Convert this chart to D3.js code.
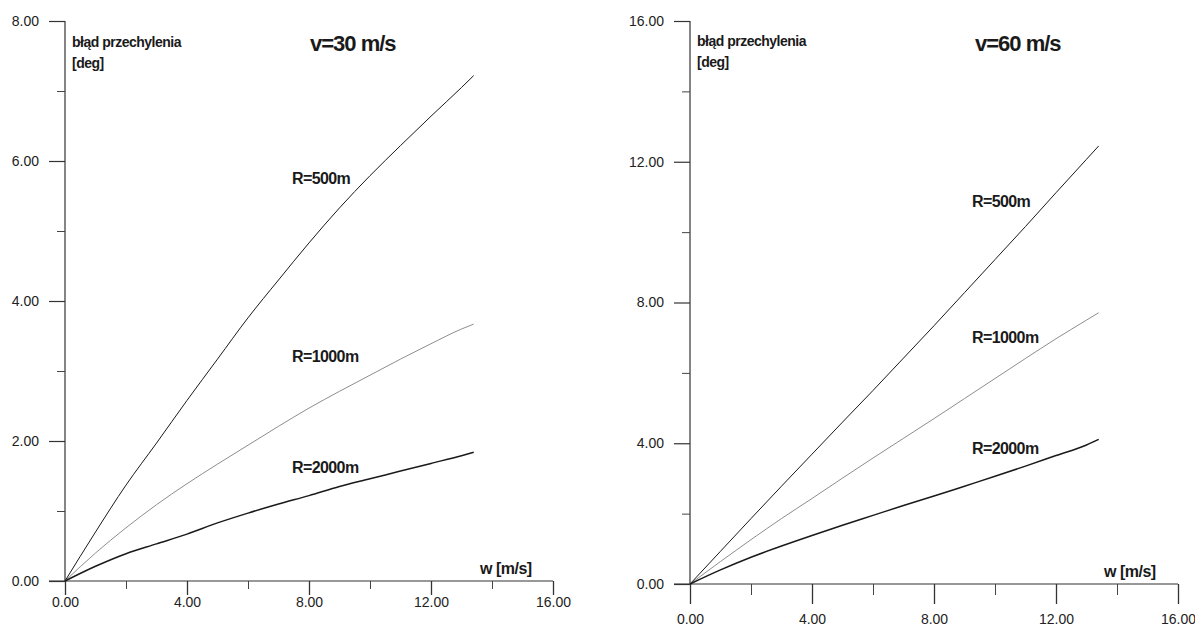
<!DOCTYPE html>
<html>
<head>
<meta charset="utf-8">
<script src="https://cdn.jsdelivr.net/npm/d3@7"></script>
<style>
  html, body { margin: 0; padding: 0; background: #fff; }
  svg { display: block; }
  .num { font-family: "Liberation Sans Narrow", "Arial Narrow", "Liberation Sans", Arial, sans-serif; font-size: 14px; fill: #222; }
  .lab { font-family: "Liberation Sans", Arial, sans-serif; font-weight: bold; fill: #1a1a1a; }
</style>
</head>
<body>
<svg id="chart" width="1195" height="627"></svg>
<script>
// wind speed w [m/s] at which the bank-angle error was evaluated
const windSpeed = [0, 1, 2, 3, 4, 5, 6, 7, 8, 9, 10, 11, 12, 13, 13.4];

// bank-angle error [deg], v = 30 m/s
const err30_R500  = [0, 0.70, 1.37, 1.97, 2.58, 3.17, 3.76, 4.30, 4.83, 5.33, 5.79, 6.22, 6.64, 7.05, 7.22];
const err30_R1000 = [0, 0.40, 0.76, 1.09, 1.39, 1.67, 1.94, 2.21, 2.47, 2.71, 2.94, 3.17, 3.39, 3.60, 3.67];
const err30_R2000 = [0, 0.21, 0.39, 0.53, 0.67, 0.83, 0.97, 1.10, 1.22, 1.35, 1.46, 1.57, 1.68, 1.79, 1.84];

// bank-angle error [deg], v = 60 m/s
const err60_R500  = [0, 0.93, 1.86, 2.78, 3.69, 4.60, 5.50, 6.42, 7.34, 8.28, 9.22, 10.16, 11.12, 12.07, 12.45];
const err60_R1000 = [0, 0.64, 1.26, 1.86, 2.43, 3.01, 3.58, 4.14, 4.70, 5.27, 5.84, 6.41, 6.97, 7.50, 7.71];
const err60_R2000 = [0, 0.40, 0.76, 1.08, 1.38, 1.67, 1.95, 2.23, 2.50, 2.78, 3.06, 3.35, 3.65, 3.95, 4.11];

const seriesNames = ["R=500m", "R=1000m", "R=2000m"];
const xTickValues = [0, 4, 8, 12, 16];
const xMinorValues = [2, 6, 10, 14];
const yTicks30 = [0, 2, 4, 6, 8];
const yMinor30 = [1, 3, 5, 7];
const yTicks60 = [0, 4, 8, 12, 16];
const yMinor60 = [2, 6, 10, 14];
const yAxisTitle = ["błąd przechylenia", "[deg]"];
const xAxisTitle = "w [m/s]";
const titles = ["v=30 m/s", "v=60 m/s"];

const svg = d3.select("#chart");
const fmt = d3.format(".2f");

// per-series line styles
const lineStyles = [
  { stroke: "#1a1a1a", width: 1.0 },
  { stroke: "#808080", width: 0.9 },
  { stroke: "#1a1a1a", width: 1.5 }
];

function drawPanel(p) {
  const g = svg.append("g");
  const x = d3.scaleLinear().domain([0, 16]).range([p.x0, p.x1]);
  const y = d3.scaleLinear().domain([0, p.yMax]).range([p.y0, p.y1]);

  // x axis: main line, major and minor ticks
  g.append("line").attr("x1", p.x0 - 16).attr("x2", x(16))
    .attr("y1", y(0)).attr("y2", y(0)).attr("stroke", "#333").attr("stroke-width", 1.2);
  const xAx = d3.axisBottom(x).tickValues(xTickValues).tickSize(p.xMajor).tickFormat(fmt).tickPadding(p.xPad);
  const gx = g.append("g").attr("transform", `translate(0,${y(0)})`).call(xAx);
  gx.select(".domain").remove();
  gx.selectAll(".tick line").attr("stroke", "#333").attr("stroke-width", 1.3);
  gx.selectAll(".tick text").attr("class", "num").attr("font-size", null).attr("font-family", null);
  g.append("g").attr("transform", `translate(0,${y(0)})`)
    .call(d3.axisBottom(x).tickValues(xMinorValues).tickSize(p.xMinor).tickFormat(""))
    .call(s => s.select(".domain").remove())
    .selectAll(".tick line").attr("stroke", "#444");

  // y axis
  g.append("line").attr("x1", p.x0).attr("x2", p.x0)
    .attr("y1", y(0)).attr("y2", y(p.yMax)).attr("stroke", "#333").attr("stroke-width", 1.2);
  const yAx = d3.axisLeft(y).tickValues(p.yTicks).tickSize(16).tickFormat(fmt).tickPadding(10);
  const gy = g.append("g").attr("transform", `translate(${p.x0},0)`).call(yAx);
  gy.select(".domain").remove();
  gy.selectAll(".tick line").attr("stroke", "#333").attr("stroke-width", 1.2);
  gy.selectAll(".tick text").attr("class", "num").attr("font-size", null).attr("font-family", null);
  g.append("g").attr("transform", `translate(${p.x0},0)`)
    .call(d3.axisLeft(y).tickValues(p.yMinor).tickSize(8).tickFormat(""))
    .call(s => s.select(".domain").remove())
    .selectAll(".tick line").attr("stroke", "#444");

  // curves
  const line = d3.line().x((d, i) => x(windSpeed[i])).y(d => y(d)).curve(d3.curveMonotoneX);
  p.series.forEach((vals, i) => {
    g.append("path").attr("d", line(vals)).attr("fill", "none")
      .attr("stroke", lineStyles[i].stroke).attr("stroke-width", lineStyles[i].width);
  });

  // curve labels
  seriesNames.forEach((name, i) => {
    g.append("text").attr("class", "lab").attr("font-size", 16).style("letter-spacing", "-0.6px")
      .attr("x", p.labelX).attr("y", p.labelY[i]).attr("dy", "0.35em").text(name);
  });

  // axis titles and panel title
  g.append("text").attr("class", "lab").attr("font-size", 14).style("letter-spacing", "-0.5px")
    .attr("x", p.x0 + 7).attr("y", p.yt0).text(yAxisTitle[0]);
  g.append("text").attr("class", "lab").attr("font-size", 14).style("letter-spacing", "-0.5px")
    .attr("x", p.x0 + 7).attr("y", p.yt0 + 21).text(yAxisTitle[1]);
  g.append("text").attr("class", "lab").attr("font-size", 16).style("letter-spacing", "-0.5px")
    .attr("x", p.wx).attr("y", y(0) - 7).text(xAxisTitle);
  g.append("text").attr("class", "lab").attr("font-size", 22).style("letter-spacing", "-1px")
    .attr("x", p.tx).attr("y", 51).text(p.title);
}

drawPanel({
  x0: 65, x1: 553, y0: 581, y1: 21, yMax: 8,
  yTicks: yTicks30, yMinor: yMinor30,
  xMajor: 14, xMinor: 8, xPad: 2,
  series: [err30_R500, err30_R1000, err30_R2000],
  labelX: 292, labelY: [178, 356, 467],
  yt0: 47, wx: 480, tx: 310, title: titles[0]
});

drawPanel({
  x0: 690, x1: 1178, y0: 584, y1: 21, yMax: 16,
  yTicks: yTicks60, yMinor: yMinor60,
  xMajor: 20, xMinor: 11, xPad: 10,
  series: [err60_R500, err60_R1000, err60_R2000],
  labelX: 972, labelY: [201, 337, 448],
  yt0: 46, wx: 1104, tx: 975, title: titles[1]
});
</script>
</body>
</html>
